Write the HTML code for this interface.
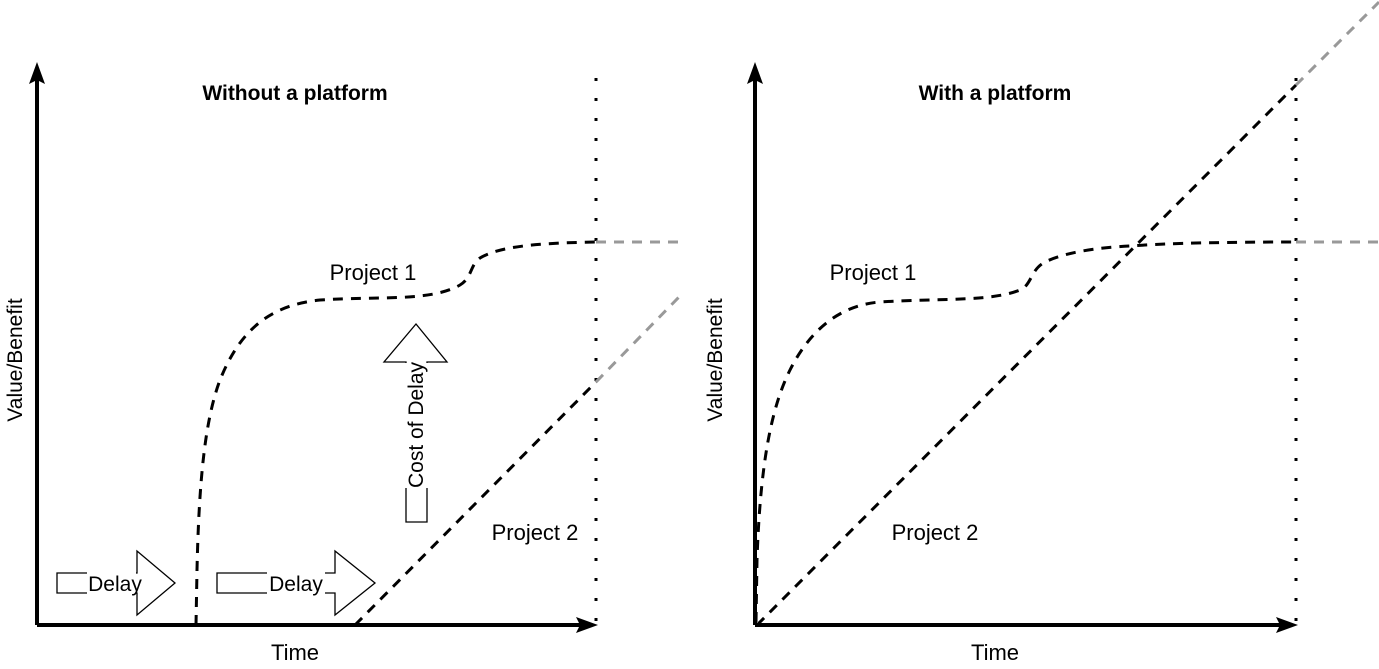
<!DOCTYPE html>
<html><head><style>body{margin:0;background:#fff}svg{display:block}text{font-family:"Liberation Sans",Arial,sans-serif}</style></head>
<body>
<svg width="1379" height="669" viewBox="0 0 1379 669" xmlns="http://www.w3.org/2000/svg">
<!-- LEFT PANEL -->
<line x1="37" y1="625" x2="37" y2="80" stroke="#000" stroke-width="4"/>
<polygon points="37,62 29,84 37,80 45,84" fill="#000"/>
<line x1="37" y1="625" x2="580" y2="625" stroke="#000" stroke-width="4"/>
<polygon points="598,625 576,617 580,625 576,633" fill="#000"/>
<line x1="596" y1="78" x2="596" y2="625" stroke="#000" stroke-width="3" stroke-dasharray="3,17"/>
<text x="295" y="100" font-size="21" font-weight="bold" text-anchor="middle">Without a platform</text>
<text x="295" y="660" font-size="22" text-anchor="middle">Time</text>
<text transform="translate(22,360) rotate(-90)" font-size="21" text-anchor="middle">Value/Benefit</text>
<path d="M196,625 L197,570 C199,480 205,420 220,380 C240,330 270,305 320,300 C380,296 430,302 460,285 C472,278 470,265 480,258 C500,246 540,243 596,242" fill="none" stroke="#000" stroke-width="3" stroke-dasharray="10,8"/>
<line x1="596" y1="242" x2="680" y2="242" stroke="#999" stroke-width="3" stroke-dasharray="10,8"/>
<line x1="355" y1="625" x2="596" y2="382" stroke="#000" stroke-width="3" stroke-dasharray="10,8"/>
<line x1="596" y1="382" x2="680" y2="296" stroke="#999" stroke-width="3" stroke-dasharray="10,8"/>
<text x="373" y="280" font-size="22" text-anchor="middle">Project 1</text>
<text x="535" y="540" font-size="22" text-anchor="middle">Project 2</text>
<!-- delay arrows -->
<polygon points="57,573 137,573 137,551 175,583 137,615 137,593 57,593" fill="#fff" stroke="#000" stroke-width="1.3"/>
<rect x="87" y="571" width="49" height="24" fill="#fff"/>
<text x="115" y="591" font-size="21" text-anchor="middle">Delay</text>
<polygon points="217,573 335,573 335,551 375,583 335,615 335,593 217,593" fill="#fff" stroke="#000" stroke-width="1.3"/>
<rect x="267" y="571" width="58" height="24" fill="#fff"/>
<text x="296" y="591" font-size="21" text-anchor="middle">Delay</text>
<polygon points="406,522 406,362 384,362 416,324 447,362 427,362 427,522" fill="#fff" stroke="#000" stroke-width="1.3"/>
<rect x="404" y="363" width="25" height="125" fill="#fff"/>
<text transform="translate(423,425) rotate(-90)" font-size="21" text-anchor="middle">Cost of Delay</text>
<!-- RIGHT PANEL -->
<line x1="755" y1="625" x2="755" y2="80" stroke="#000" stroke-width="4"/>
<polygon points="755,62 747,84 755,80 763,84" fill="#000"/>
<line x1="755" y1="625" x2="1280" y2="625" stroke="#000" stroke-width="4"/>
<polygon points="1298,625 1276,617 1280,625 1276,633" fill="#000"/>
<line x1="1296" y1="78" x2="1296" y2="625" stroke="#000" stroke-width="3" stroke-dasharray="3,17"/>
<text x="995" y="100" font-size="21" font-weight="bold" text-anchor="middle">With a platform</text>
<text x="995" y="660" font-size="22" text-anchor="middle">Time</text>
<text transform="translate(722,360) rotate(-90)" font-size="21" text-anchor="middle">Value/Benefit</text>
<path d="M756,622 L757,560 C760,470 770,410 790,370 C810,330 840,305 880,302 C940,298 990,302 1020,290 C1032,285 1030,270 1045,262 C1070,250 1110,247 1130,246 C1170,243 1230,242 1296,242" fill="none" stroke="#000" stroke-width="3" stroke-dasharray="10,8"/>
<line x1="1296" y1="242" x2="1379" y2="242" stroke="#999" stroke-width="3" stroke-dasharray="10,8"/>
<line x1="757" y1="625" x2="1296" y2="85" stroke="#000" stroke-width="3" stroke-dasharray="10,8"/>
<line x1="1296" y1="85" x2="1379" y2="2" stroke="#999" stroke-width="3" stroke-dasharray="10,8"/>
<text x="873" y="280" font-size="22" text-anchor="middle">Project 1</text>
<text x="935" y="540" font-size="22" text-anchor="middle">Project 2</text>
</svg>
</body></html>
